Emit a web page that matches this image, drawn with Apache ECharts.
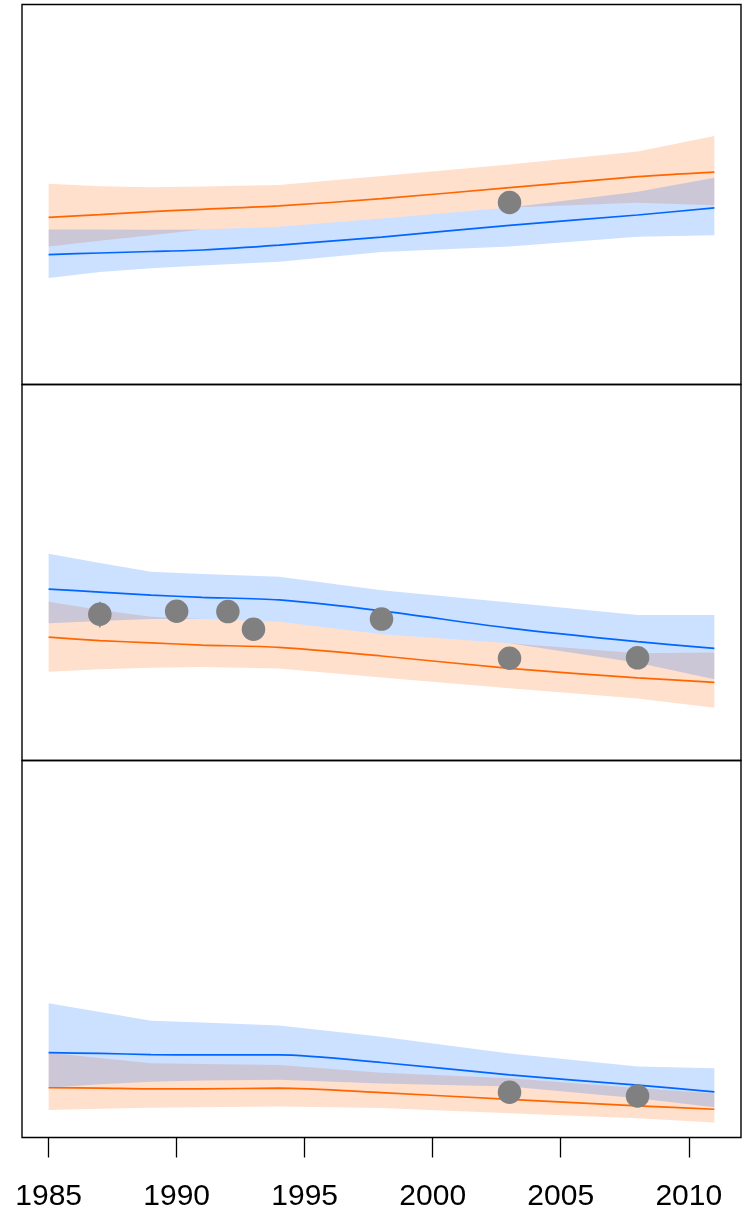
<!DOCTYPE html>
<html><head><meta charset="utf-8">
<script src="https://cdn.jsdelivr.net/npm/echarts@6/dist/echarts.min.js"></script>
<style>html,body{margin:0;padding:0;background:#fff}#c{width:755px;height:1216px}</style>
</head><body><div id="c"></div>
<script>
const years = [1985, 1987, 1989, 1991, 1994, 1998, 2003, 2008, 2011];
const tickYears = [1985, 1990, 1995, 2000, 2005, 2010];

// Panel 1 (top)
const p1OrangeMean  = [44.0, 44.7, 45.5, 46.1, 47.0, 48.9, 51.8, 54.7, 55.9];
const p1OrangeUpper = [52.8, 52.2, 51.9, 52.1, 52.5, 54.9, 57.9, 61.3, 65.4];
const p1OrangeLower = [36.3, 37.8, 39.3, 40.8, 41.5, 43.7, 46.6, 47.8, 47.2];
const p1BlueMean    = [34.2, 34.6, 35.0, 35.4, 36.7, 38.8, 41.9, 44.6, 46.5];
const p1BlueUpper   = [40.8, 40.8, 40.7, 40.8, 41.5, 43.7, 46.6, 50.7, 54.4];
const p1BlueLower   = [28.0, 29.6, 30.6, 31.3, 32.3, 34.9, 36.3, 38.9, 39.3];
const p1PointYears  = [2003];
const p1PointVals   = [47.9];

// Panel 2 (middle)
const p2OrangeMean  = [32.8, 31.9, 31.3, 30.7, 30.1, 27.8, 24.5, 22.0, 20.8];
const p2OrangeUpper = [42.2, 40.0, 38.2, 37.6, 36.9, 33.6, 31.2, 28.5, 28.7];
const p2OrangeLower = [23.6, 24.3, 24.7, 24.9, 24.5, 22.1, 19.2, 16.5, 14.0];
const p2BlueMean    = [45.6, 44.8, 44.0, 43.4, 42.7, 39.8, 35.2, 31.6, 29.8];
const p2BlueUpper   = [55.0, 52.5, 50.2, 49.6, 48.9, 45.3, 42.0, 38.7, 38.7];
const p2BlueLower   = [36.5, 37.1, 37.6, 37.6, 36.9, 33.6, 31.2, 26.0, 21.6];
const p2PointYears  = [1987, 1990, 1992, 1993, 1998, 2003, 2008];
const p2PointVals   = [38.9, 39.7, 39.6, 34.9, 37.6, 27.2, 27.3];
const p2ErrYear = 1987, p2ErrLow = 35.4, p2ErrHigh = 42.2;

// Panel 3 (bottom)
const p3OrangeMean  = [13.2, 13.1, 12.9, 12.9, 13.1, 11.9, 10.1, 8.4, 7.5];
const p3OrangeUpper = [22.5, 21.1, 19.7, 19.5, 19.2, 17.2, 15.7, 13.1, 11.7];
const p3OrangeLower = [7.3, 7.6, 7.9, 8.0, 8.2, 7.8, 6.4, 5.1, 4.0];
const p3BlueMean    = [22.5, 22.3, 22.0, 21.9, 21.9, 19.9, 16.6, 13.9, 12.1];
const p3BlueUpper   = [35.6, 33.3, 31.0, 30.5, 29.7, 26.7, 22.3, 18.8, 18.4];
const p3BlueLower   = [13.2, 14.1, 14.8, 15.1, 15.3, 14.3, 13.5, 10.4, 8.0];
const p3PointYears  = [2003, 2008];
const p3PointVals   = [12.0, 11.0];

const ORANGE = '#FF6600', BLUE = '#0066FF';
const ORANGE_FILL = 'rgba(255,102,0,0.2)', BLUE_FILL = 'rgba(0,102,255,0.2)';

const panels = [
  {oM:p1OrangeMean,oU:p1OrangeUpper,oL:p1OrangeLower,bM:p1BlueMean,bU:p1BlueUpper,bL:p1BlueLower,px:p1PointYears,pv:p1PointVals},
  {oM:p2OrangeMean,oU:p2OrangeUpper,oL:p2OrangeLower,bM:p2BlueMean,bU:p2BlueUpper,bL:p2BlueLower,px:p2PointYears,pv:p2PointVals,
   err:[p2ErrYear,p2ErrLow,p2ErrHigh]},
  {oM:p3OrangeMean,oU:p3OrangeUpper,oL:p3OrangeLower,bM:p3BlueMean,bU:p3BlueUpper,bL:p3BlueLower,px:p3PointYears,pv:p3PointVals}
];

const gridDefs = [
  {top: 4.5, height: 380},
  {top: 384.5, height: 376},
  {top: 760.5, height: 377}
];

const grids = gridDefs.map(g => ({
  left: 22, right: 14, top: g.top, height: g.height,
  show: true, borderColor: '#000', borderWidth: 1.4, backgroundColor: 'transparent'
}));

const xAxes = gridDefs.map((g, i) => {
  const last = i === gridDefs.length - 1;
  return {
    type: 'value', gridIndex: i, min: 1983.96, max: 2012.04,
    splitLine: {show: false},
    axisLine: {show: false},
    axisTick: last ? {show: true, customValues: tickYears, length: 20, lineStyle: {color: '#000', width: 1.3}} : {show: false},
    axisLabel: last ? {show: true, customValues: tickYears, fontSize: 30, color: '#000',
      fontFamily: 'Liberation Sans, Arial, sans-serif', margin: 44, formatter: v => String(v)} : {show: false}
  };
});

const yAxes = gridDefs.map((g, i) => ({
  type: 'value', gridIndex: i, min: 0, max: 100, show: false, splitLine: {show: false}
}));

const series = [];
const pair = (xs, vs) => xs.map((x, k) => [x, vs[k]]);

// A band polygon drawn through the axes' scales (api.coord)
function band(i, lower, upper, fill) {
  series.push({
    type: 'custom', xAxisIndex: i, yAxisIndex: i, silent: true, z: 2,
    data: years.map((y, k) => [y, lower[k], upper[k]]),
    encode: {x: 0, y: [1, 2]},
    renderItem: function (params, api) {
      if (params.dataIndex !== 0) return null;
      const pts = [];
      for (let k = 0; k < years.length; k++) pts.push(api.coord([years[k], upper[k]]));
      for (let k = years.length - 1; k >= 0; k--) pts.push(api.coord([years[k], lower[k]]));
      return {type: 'polygon', shape: {points: pts}, style: {fill: fill, stroke: null}};
    }
  });
}

panels.forEach((p, i) => {
  band(i, p.oL, p.oU, ORANGE_FILL);
  band(i, p.bL, p.bU, BLUE_FILL);
});
panels.forEach((p, i) => {
  series.push({type: 'line', xAxisIndex: i, yAxisIndex: i, symbol: 'none', smooth: 0.25,
    lineStyle: {color: ORANGE, width: 1.7}, data: pair(years, p.oM), z: 3});
  series.push({type: 'line', xAxisIndex: i, yAxisIndex: i, symbol: 'none', smooth: 0.25,
    lineStyle: {color: BLUE, width: 1.7}, data: pair(years, p.bM), z: 3});
  if (p.err) {
    series.push({type: 'line', xAxisIndex: i, yAxisIndex: i, symbol: 'none',
      lineStyle: {color: '#808080', width: 1.5}, data: [[p.err[0], p.err[1]], [p.err[0], p.err[2]]], z: 4});
  }
  series.push({type: 'scatter', xAxisIndex: i, yAxisIndex: i, symbol: 'circle', symbolSize: 23.5,
    itemStyle: {color: '#808080', opacity: 1}, data: pair(p.px, p.pv), z: 5});
});

const chart = echarts.init(document.getElementById('c'), null, {renderer: 'canvas'});
chart.setOption({
  animation: false,
  backgroundColor: '#fff',
  grid: grids, xAxis: xAxes, yAxis: yAxes, series: series
});
</script>
</body></html>
